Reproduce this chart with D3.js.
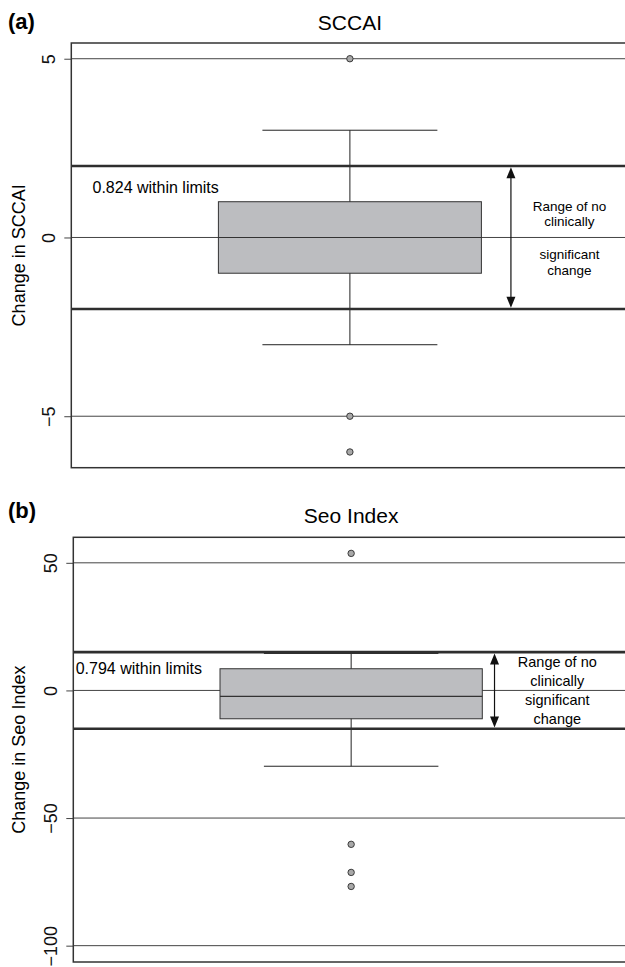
<!DOCTYPE html>
<html>
<meta charset="utf-8">
<head>
  <title>Change within limits</title>
</head>
<style>
body { margin: 0; background: #fff; }
svg { font-family: "Liberation Sans", Arial, sans-serif; }
.grid line { stroke: #444; stroke-width: 1px; }
.limit { stroke: #2e2e2e; stroke-width: 2.6px; }
.frame { fill: none; stroke: #333; stroke-width: 1.5px; }
.whisker { stroke: #222; stroke-width: 1px; }
.box { fill: #bcbdc0; stroke: #333; stroke-width: 1px; }
.median { stroke: #333; stroke-width: 1.2px; }
.outlier { fill: #a8a8a8; stroke: #3a3a3a; stroke-width: 1px; }
.axis text { font-size: 18px; fill: #111; }
.axis line { stroke: #444; }
</style>
<body>
<script src="https://cdnjs.cloudflare.com/ajax/libs/d3/7.8.5/d3.min.js"></script>
<script>

// data
var titles = ["SCCAI", "Seo Index"];
var tags = ["(a)", "(b)"];
var yLabels = ["Change in SCCAI", "Change in Seo Index"];
var yTicks = [[-5, 0, 5], [-100, -50, 0, 50]];
var yDomains = [[-6.44, 5.44], [-106.4, 60]];
var whiskerLow = [-3, -29.7];
var q1 = [-1, -11.1];
var median = [0, -2.35];
var q3 = [1, 8.5];
var whiskerHigh = [3, 14.5];
var outliers = [[5, -5, -6], [53.7, -60.3, -71.3, -76.8]];
var limits = [2, 15];
var withinShare = [0.824, 0.794];
var rangeText = ["Range of no", "clinically", "significant", "change"];

var width = 625, height = 967;

// panel geometry (pixels)
var layout = [
  {top: 43, bottom: 467.7, left: 71.3, right: 628.5, tagY: 29, titleY: 30,
   annoX: 92.5, annoY: 193, arrowX: 1.289, textX: 1.394, textDy: [-26.5, -11, 22, 37.5]},
  {top: 537.3, bottom: 962, left: 73.3, right: 629, tagY: 518, titleY: 522.5,
   annoX: 75.7, annoY: 674, arrowX: 1.258, textX: 1.371, textDy: [-23.6, -4.6, 14.7, 34]}
];

var svg = d3.select("body").append("svg")
    .attr("width", width)
    .attr("height", height);

layout.forEach(function(L, i) {
  var x = d3.scaleLinear().domain([0.5, 1.5]).range([L.left, L.right]);
  var y = d3.scaleLinear().domain(yDomains[i]).range([L.bottom, L.top]);
  var g = svg.append("g");

  // tag and title
  g.append("text")
      .attr("x", 8).attr("y", L.tagY)
      .style("font-size", "22px").style("font-weight", "bold")
      .text(tags[i]);
  g.append("text")
      .attr("x", x(1)).attr("y", L.titleY)
      .attr("text-anchor", "middle")
      .style("font-size", "21px")
      .text(titles[i]);

  // grid lines at the ticks
  g.append("g").attr("class", "grid")
    .selectAll("line")
    .data(yTicks[i])
    .enter().append("line")
      .attr("x1", L.left).attr("x2", L.right)
      .attr("y1", function(d) { return y(d); })
      .attr("y2", function(d) { return y(d); });

  // axis
  var ax = g.append("g")
      .attr("class", "axis")
      .attr("transform", "translate(" + L.left + ",0)")
      .call(d3.axisLeft(y).tickValues(yTicks[i]).tickSize(7).tickFormat(d3.format("d")));
  ax.select(".domain").remove();
  ax.selectAll("text")
      .attr("x", null).attr("dy", null)
      .attr("text-anchor", "middle")
      .attr("transform", "translate(-16,0) rotate(-90)");

  g.append("text")
      .attr("transform", "translate(25," + (L.top + L.bottom) / 2 + ") rotate(-90)")
      .attr("text-anchor", "middle")
      .style("font-size", "18px")
      .text(yLabels[i]);

  // box and whiskers
  var c = x(1);
  g.append("line").attr("class", "whisker")
      .attr("x1", c).attr("x2", c)
      .attr("y1", y(whiskerHigh[i])).attr("y2", y(whiskerLow[i]));
  [whiskerHigh[i], whiskerLow[i]].forEach(function(v) {
    g.append("line").attr("class", "whisker")
        .attr("x1", x(1 - 0.157)).attr("x2", x(1 + 0.157))
        .attr("y1", y(v)).attr("y2", y(v));
  });
  g.append("rect").attr("class", "box")
      .attr("x", x(1 - 0.236))
      .attr("width", x(1 + 0.236) - x(1 - 0.236))
      .attr("y", y(q3[i]))
      .attr("height", y(q1[i]) - y(q3[i]));
  g.append("line").attr("class", "median")
      .attr("x1", x(1 - 0.236)).attr("x2", x(1 + 0.236))
      .attr("y1", y(median[i])).attr("y2", y(median[i]));

  // limits of no clinically significant change
  g.selectAll(".limit")
    .data([limits[i], -limits[i]])
    .enter().append("line")
      .attr("class", "limit")
      .attr("x1", L.left).attr("x2", L.right)
      .attr("y1", function(d) { return y(d); })
      .attr("y2", function(d) { return y(d); });

  // double arrow
  var ax0 = x(L.arrowX), yt = y(limits[i]) + 1.3, yb = y(-limits[i]) - 1.3;
  g.append("line")
      .attr("x1", ax0).attr("x2", ax0)
      .attr("y1", yt + 6).attr("y2", yb - 6)
      .attr("stroke", "#111").attr("stroke-width", 1.2);
  var heads = d3.path();
  heads.moveTo(ax0, yt); heads.lineTo(ax0 - 4.5, yt + 11); heads.lineTo(ax0 + 4.5, yt + 11); heads.closePath();
  heads.moveTo(ax0, yb); heads.lineTo(ax0 - 4.5, yb - 11); heads.lineTo(ax0 + 4.5, yb - 11); heads.closePath();
  g.append("path").attr("d", heads.toString()).attr("fill", "#111");

  g.append("g").selectAll("text")
    .data(rangeText)
    .enter().append("text")
      .attr("x", x(L.textX))
      .attr("y", function(d, k) { return y(0) + L.textDy[k]; })
      .attr("text-anchor", "middle")
      .style("font-size", i === 0 ? "13.5px" : "14.5px")
      .text(function(d) { return d; });

  g.append("text")
      .attr("x", L.annoX).attr("y", L.annoY)
      .style("font-size", "16px")
      .text(withinShare[i] + " within limits");

  // outliers
  g.selectAll(".outlier")
    .data(outliers[i])
    .enter().append("circle")
      .attr("class", "outlier")
      .attr("cx", c)
      .attr("cy", function(d) { return y(d); })
      .attr("r", 3.2);

  g.append("rect").attr("class", "frame")
      .attr("x", L.left).attr("y", L.top)
      .attr("width", L.right - L.left)
      .attr("height", L.bottom - L.top);
});

</script>
</body>
</html>
